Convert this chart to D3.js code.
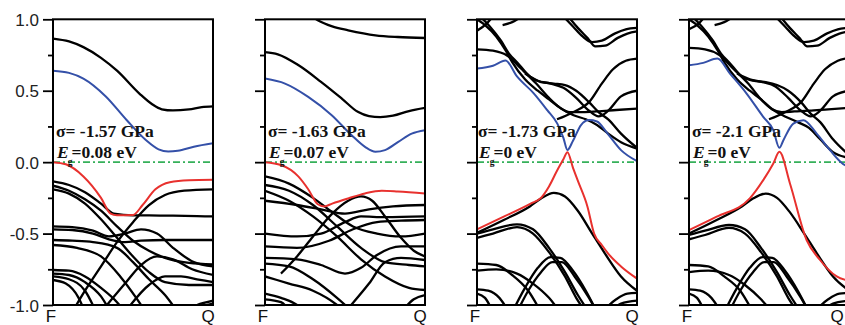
<!DOCTYPE html>
<html>
<head>
<meta charset="utf-8">
<script src="https://cdn.jsdelivr.net/npm/d3@7"></script>
<style>
  html, body { margin: 0; padding: 0; background: #fff; }
  svg { display: block; }
</style>
</head>
<body>
<svg id="chart" width="845" height="325"></svg>
<script>
// Band structures along F–Q under four stress values (energies in eV).
const stressLabels = ["σ= -1.57 GPa", "σ= -1.63 GPa", "σ= -1.73 GPa", "σ= -2.1 GPa"];
const gapLabels = ["=0.08 eV", "=0.07 eV", "=0 eV", "=0 eV"];
const majorTicks = [-1.0, -0.5, 0.0, 0.5, 1.0];
const minorTicks = [-0.75, -0.25, 0.25, 0.75];
const kLabels = ["F", "Q"];

// ---- panel 1: σ = -1.57 GPa
const p1Blue = [[0,0.64],[0.1,0.625],[0.19,0.585],[0.33,0.46],[0.46,0.295],[0.58,0.155],[0.66,0.09],[0.72,0.075],[0.78,0.08],[0.88,0.108],[1,0.132]];
const p1Red = [[0,0],[0.08,-0.015],[0.19,-0.1],[0.3,-0.25],[0.36,-0.36],[0.4,-0.372],[0.5,-0.37],[0.56,-0.3],[0.64,-0.19],[0.73,-0.14],[0.85,-0.127],[1,-0.124]];
const p1Black = [
  [[0,0.865],[0.1,0.845],[0.19,0.805],[0.3,0.73],[0.4,0.64],[0.54,0.48],[0.62,0.405],[0.68,0.37],[0.75,0.362],[0.85,0.37],[0.93,0.385],[1,0.39]],
  [[0,-0.135],[0.1,-0.16],[0.2,-0.21],[0.3,-0.29],[0.38,-0.36],[0.5,-0.372],[0.6,-0.372],[0.75,-0.375],[0.9,-0.378],[1,-0.38]],
  [[0,-0.165],[0.1,-0.2],[0.2,-0.26],[0.3,-0.34],[0.4,-0.45],[0.5,-0.55],[0.6,-0.62],[0.7,-0.67],[0.85,-0.705],[1,-0.715]],
  [[0,-0.19],[0.1,-0.22],[0.2,-0.29],[0.3,-0.4],[0.4,-0.53],[0.5,-0.66],[0.6,-0.77],[0.7,-0.84],[0.85,-0.86],[1,-0.86]],
  [[0.12,-1.05],[0.2,-0.9],[0.3,-0.73],[0.4,-0.56],[0.5,-0.42],[0.6,-0.3],[0.7,-0.23],[0.82,-0.2],[1,-0.19]],
  [[0,-0.45],[0.12,-0.455],[0.25,-0.48],[0.35,-0.52],[0.45,-0.5],[0.55,-0.47],[0.65,-0.5],[0.75,-0.6],[0.88,-0.7],[1,-0.73]],
  [[0,-0.47],[0.12,-0.475],[0.25,-0.5],[0.35,-0.54],[0.45,-0.56],[0.55,-0.55],[0.7,-0.545],[0.85,-0.545],[1,-0.545]],
  [[0,-0.545],[0.12,-0.55],[0.25,-0.56],[0.4,-0.6],[0.5,-0.7],[0.6,-0.82],[0.7,-0.93],[0.78,-1.05]],
  [[0,-0.58],[0.15,-0.6],[0.3,-0.66],[0.42,-0.8],[0.52,-0.95],[0.58,-1.05]],
  [[0,-0.755],[0.1,-0.76],[0.2,-0.8],[0.3,-0.88],[0.4,-0.98],[0.45,-1.05]],
  [[0,-0.78],[0.1,-0.79],[0.2,-0.84],[0.3,-0.94],[0.36,-1.05]],
  [[0,-0.8],[0.1,-0.82],[0.2,-0.9],[0.27,-1.05]],
  [[0,-0.825],[0.08,-0.85],[0.16,-0.95],[0.2,-1.05]],
  [[0.3,-1.05],[0.45,-0.85],[0.55,-0.72],[0.65,-0.66],[0.75,-0.68],[0.87,-0.75],[1,-0.79]],
  [[0.45,-1.05],[0.6,-0.86],[0.7,-0.8],[0.8,-0.8],[0.9,-0.82],[1,-0.84]],
  [[0.8,-1.05],[0.9,-1.0],[1,-0.97]],
  [[0.85,-1.05],[0.93,-1.01],[1,-0.99]]
];

// ---- panel 2: σ = -1.63 GPa
const p2Blue = [[0,0.585],[0.125,0.55],[0.27,0.457],[0.417,0.329],[0.54,0.19],[0.625,0.107],[0.69,0.072],[0.75,0.084],[0.833,0.142],[0.917,0.2],[1,0.224]];
const p2Red = [[0,0],[0.1,-0.02],[0.208,-0.1],[0.27,-0.19],[0.33,-0.295],[0.37,-0.31],[0.42,-0.29],[0.52,-0.254],[0.625,-0.219],[0.73,-0.2],[0.83,-0.205],[1,-0.219]];
const p2Black = [
  [[0.28,1.03],[0.33,0.993],[0.42,0.95],[0.52,0.923],[0.69,0.888],[0.83,0.876],[1,0.869]],
  [[0,0.77],[0.08,0.755],[0.21,0.678],[0.35,0.562],[0.48,0.445],[0.58,0.352],[0.65,0.322],[0.72,0.315],[0.8,0.325],[0.9,0.358],[1,0.38]],
  [[0,-0.1],[0.15,-0.15],[0.3,-0.25],[0.42,-0.35],[0.55,-0.45],[0.7,-0.5],[0.85,-0.52],[1,-0.5]],
  [[0,-0.16],[0.15,-0.2],[0.3,-0.3],[0.45,-0.45],[0.6,-0.6],[0.75,-0.7],[0.9,-0.72],[1,-0.73]],
  [[0,-0.2],[0.15,-0.27],[0.3,-0.38],[0.45,-0.52],[0.6,-0.68],[0.75,-0.8],[0.9,-0.88],[1,-0.895]],
  [[0.1,-0.78],[0.2,-0.66],[0.3,-0.52],[0.42,-0.36],[0.52,-0.27],[0.6,-0.24],[0.67,-0.27],[0.75,-0.38],[0.85,-0.53],[0.93,-0.62],[1,-0.66]],
  [[0,-0.27],[0.2,-0.3],[0.35,-0.33],[0.5,-0.36],[0.65,-0.33],[0.8,-0.31],[1,-0.3]],
  [[0,-0.5],[0.2,-0.52],[0.35,-0.5],[0.5,-0.42],[0.6,-0.38],[0.75,-0.385],[1,-0.38]],
  [[0,-0.59],[0.2,-0.6],[0.4,-0.55],[0.55,-0.47],[0.7,-0.42],[0.85,-0.41],[1,-0.405]],
  [[0,-0.67],[0.2,-0.68],[0.35,-0.72],[0.5,-0.78],[0.6,-0.74],[0.7,-0.65],[0.85,-0.59],[1,-0.59]],
  [[0,-0.71],[0.15,-0.73],[0.3,-0.82],[0.45,-0.95],[0.55,-1.05]],
  [[0,-0.8],[0.15,-0.85],[0.3,-0.9],[0.45,-1.0],[0.5,-1.05]],
  [[0,-0.92],[0.1,-0.95],[0.2,-1.0],[0.25,-1.05]],
  [[0,-0.96],[0.1,-0.98],[0.16,-1.05]],
  [[0.5,-1.05],[0.65,-0.85],[0.75,-0.7],[0.85,-0.67],[1,-0.685]],
  [[0.85,-1.05],[0.93,-0.96],[1,-0.93]]
];

// ---- panel 3: σ = -1.73 GPa
const p3Blue = [[0,0.655],[0.1,0.675],[0.178,0.712],[0.25,0.6],[0.356,0.48],[0.439,0.364],[0.502,0.27],[0.54,0.17],[0.565,0.085],[0.6,0.15],[0.65,0.26],[0.7,0.295],[0.75,0.285],[0.816,0.2],[0.9,0.084],[1,0.007]];
const p3Red = [[0,-0.47],[0.167,-0.382],[0.335,-0.29],[0.4,-0.25],[0.45,-0.17],[0.5,-0.06],[0.54,0.02],[0.565,0.07],[0.6,-0.04],[0.63,-0.13],[0.69,-0.31],[0.732,-0.5],[0.78,-0.58],[0.82,-0.64],[0.9,-0.73],[1,-0.815]];
const p3Black = [
  [[0,0.79],[0.1,0.78],[0.19,0.745],[0.28,0.65],[0.37,0.55],[0.45,0.45],[0.52,0.38],[0.58,0.35],[0.66,0.35],[0.75,0.355],[0.87,0.365],[1,0.375]],
  [[0,1.0],[0.05,0.96],[0.12,0.88],[0.18,0.78],[0.22,0.7],[0.3,0.58],[0.38,0.5],[0.45,0.44],[0.52,0.38],[0.6,0.33],[0.68,0.3],[0.75,0.26],[0.82,0.2],[0.9,0.14],[1,0.095]],
  [[0.02,1.02],[0.08,0.95],[0.15,0.85],[0.2,0.76],[0.25,0.7],[0.33,0.6],[0.4,0.56],[0.48,0.55],[0.55,0.54],[0.62,0.5],[0.7,0.42],[0.76,0.35],[0.82,0.3],[0.9,0.2],[1,0.1]],
  [[0.3,0.62],[0.38,0.57],[0.46,0.55],[0.54,0.52],[0.62,0.45],[0.7,0.36],[0.76,0.32],[0.82,0.36],[0.9,0.46],[1,0.5]],
  [[0.5,0.3],[0.6,0.35],[0.7,0.42],[0.78,0.55],[0.85,0.65],[0.93,0.71],[1,0.725]],
  [[0.54,1.02],[0.6,0.95],[0.66,0.88],[0.72,0.84],[0.78,0.85],[0.86,0.9],[0.93,0.93],[1,0.94]],
  [[0.57,1.02],[0.63,0.94],[0.69,0.87],[0.74,0.81],[0.8,0.815],[0.88,0.87],[0.94,0.9],[1,0.915]],
  [[0,0.92],[0.06,0.97],[0.1,1.02]],
  [[0.16,0.96],[0.22,0.98],[0.28,1.02]],
  [[0,-0.495],[0.167,-0.405],[0.33,-0.31],[0.4,-0.255],[0.48,-0.215],[0.55,-0.24],[0.63,-0.34],[0.72,-0.5],[0.8,-0.64],[0.9,-0.8],[1,-0.9]],
  [[0,-0.5],[0.1,-0.47],[0.25,-0.435],[0.35,-0.47],[0.45,-0.6],[0.55,-0.77],[0.63,-0.93],[0.7,-1.05]],
  [[0,-0.53],[0.1,-0.5],[0.25,-0.455],[0.35,-0.5],[0.45,-0.63],[0.55,-0.8],[0.62,-0.95],[0.68,-1.05]],
  [[0.22,-1.05],[0.3,-0.88],[0.38,-0.74],[0.46,-0.665],[0.52,-0.67],[0.6,-0.76],[0.68,-0.9],[0.75,-1.05]],
  [[0.25,-1.05],[0.32,-0.9],[0.4,-0.77],[0.47,-0.7],[0.53,-0.7],[0.61,-0.8],[0.7,-0.95],[0.75,-1.05]],
  [[0,-0.71],[0.12,-0.72],[0.22,-0.79],[0.32,-0.9],[0.4,-1.05]],
  [[0,-0.76],[0.12,-0.75],[0.25,-0.78],[0.35,-0.85],[0.45,-0.95],[0.52,-1.05]],
  [[0,-0.89],[0.07,-0.9],[0.14,-0.95],[0.2,-1.05]],
  [[0,-0.92],[0.05,-0.95],[0.1,-1.05]],
  [[0.78,-1.05],[0.87,-0.96],[0.94,-0.92],[1,-0.915]],
  [[0.83,-1.05],[0.9,-0.99],[1,-0.97]]
];

// ---- panel 4: σ = -2.1 GPa
const p4Blue = [[0,0.678],[0.089,0.695],[0.177,0.725],[0.256,0.62],[0.36,0.48],[0.464,0.317],[0.527,0.224],[0.565,0.1],[0.59,0.154],[0.652,0.27],[0.715,0.294],[0.798,0.2],[0.881,0.084],[0.975,-0.021],[1,-0.03]];
const p4Red = [[0,-0.476],[0.173,-0.382],[0.38,-0.254],[0.464,-0.126],[0.527,-0.009],[0.565,0.072],[0.631,-0.149],[0.735,-0.545],[0.819,-0.685],[0.923,-0.8],[1,-0.83]];
const p4Black = [
  [[0,0.8],[0.1,0.79],[0.19,0.75],[0.28,0.65],[0.37,0.55],[0.45,0.44],[0.52,0.37],[0.58,0.35],[0.66,0.355],[0.75,0.36],[0.87,0.37],[1,0.38]],
  [[0,1.0],[0.05,0.96],[0.12,0.88],[0.18,0.78],[0.22,0.7],[0.3,0.58],[0.38,0.5],[0.45,0.44],[0.52,0.37],[0.6,0.32],[0.68,0.28],[0.75,0.24],[0.82,0.16],[0.9,0.07],[1,0.03]],
  [[0.02,1.02],[0.08,0.95],[0.15,0.85],[0.2,0.76],[0.25,0.7],[0.33,0.6],[0.4,0.57],[0.48,0.56],[0.55,0.54],[0.62,0.5],[0.7,0.42],[0.76,0.34],[0.82,0.28],[0.9,0.16],[1,0.05]],
  [[0.3,0.62],[0.38,0.58],[0.46,0.56],[0.54,0.53],[0.62,0.45],[0.7,0.36],[0.76,0.32],[0.82,0.36],[0.9,0.46],[1,0.5]],
  [[0.5,0.3],[0.6,0.35],[0.7,0.42],[0.78,0.55],[0.85,0.65],[0.93,0.71],[1,0.73]],
  [[0.54,1.02],[0.6,0.95],[0.66,0.88],[0.72,0.84],[0.78,0.85],[0.86,0.9],[0.93,0.93],[1,0.94]],
  [[0.57,1.02],[0.63,0.94],[0.69,0.87],[0.74,0.81],[0.8,0.815],[0.88,0.87],[0.94,0.9],[1,0.915]],
  [[0,0.93],[0.06,0.97],[0.1,1.02]],
  [[0.16,0.96],[0.22,0.98],[0.28,1.02]],
  [[0,-0.5],[0.173,-0.405],[0.33,-0.31],[0.4,-0.255],[0.48,-0.22],[0.55,-0.25],[0.63,-0.35],[0.72,-0.5],[0.8,-0.64],[0.9,-0.8],[1,-0.9]],
  [[0,-0.51],[0.1,-0.48],[0.25,-0.44],[0.35,-0.47],[0.45,-0.6],[0.55,-0.77],[0.63,-0.93],[0.7,-1.05]],
  [[0,-0.54],[0.1,-0.51],[0.25,-0.46],[0.35,-0.5],[0.45,-0.63],[0.55,-0.8],[0.62,-0.95],[0.68,-1.05]],
  [[0.22,-1.05],[0.3,-0.88],[0.38,-0.74],[0.46,-0.665],[0.52,-0.67],[0.6,-0.76],[0.68,-0.9],[0.75,-1.05]],
  [[0.25,-1.05],[0.32,-0.9],[0.4,-0.77],[0.47,-0.7],[0.53,-0.7],[0.61,-0.8],[0.7,-0.95],[0.75,-1.05]],
  [[0,-0.72],[0.12,-0.73],[0.22,-0.8],[0.32,-0.9],[0.4,-1.05]],
  [[0,-0.77],[0.12,-0.76],[0.25,-0.79],[0.35,-0.86],[0.45,-0.96],[0.52,-1.05]],
  [[0,-0.89],[0.07,-0.9],[0.14,-0.95],[0.2,-1.05]],
  [[0,-0.92],[0.05,-0.95],[0.1,-1.05]],
  [[0.78,-1.05],[0.87,-0.96],[0.94,-0.92],[1,-0.915]],
  [[0.83,-1.05],[0.9,-0.99],[1,-0.97]]
];

const panels = [
  { left: 53,  black: p1Black, blue: p1Blue, red: p1Red },
  { left: 265, black: p2Black, blue: p2Blue, red: p2Red },
  { left: 477, black: p3Black, blue: p3Blue, red: p3Red },
  { left: 689, black: p4Black, blue: p4Blue, red: p4Red }
];

const panelW = 160;
const plotTop = 19.3, plotBottom = 305;
const svgW = 845;
const svg = d3.select("#chart");
svg.append("rect").attr("width", svgW).attr("height", 325).attr("fill", "#fff");

const y = d3.scaleLinear().domain([-1, 1]).range([plotBottom, plotTop]);

panels.forEach((p, i) => {
  const x = d3.scaleLinear().domain([0, 1]).range([p.left, p.left + panelW]);
  const g = svg.append("g");
  const clipId = "clip" + i;
  svg.append("clipPath").attr("id", clipId)
    .append("rect").attr("x", p.left).attr("y", plotTop).attr("width", panelW).attr("height", plotBottom - plotTop);

  const line = d3.line().x(d => x(d[0])).y(d => y(d[1])).curve(d3.curveMonotoneX);
  const bands = g.append("g").attr("clip-path", `url(#${clipId})`);

  bands.selectAll("path.black").data(p.black).join("path")
    .attr("class", "black").attr("d", line)
    .attr("fill", "none").attr("stroke", "#000").attr("stroke-width", 2.3)
    .attr("stroke-linejoin", "round");

  // Fermi level
  bands.append("line")
    .attr("x1", x(0)).attr("x2", x(1)).attr("y1", y(0)).attr("y2", y(0))
    .attr("stroke", "#35b05a").attr("stroke-width", 1.6)
    .attr("stroke-dasharray", "7,3,2,3");

  bands.append("path").datum(p.blue).attr("d", line)
    .attr("fill", "none").attr("stroke", "#3450a8").attr("stroke-width", 2);
  bands.append("path").datum(p.red).attr("d", line)
    .attr("fill", "none").attr("stroke", "#e8312e").attr("stroke-width", 2);

  // axes (ticks pointing outward)
  const major = d3.axisLeft(y).tickValues(majorTicks).tickSize(10)
    .tickFormat(i === 0 ? (d => d.toFixed(1)) : () => "");
  const minor = d3.axisLeft(y).tickValues(minorTicks).tickSize(5).tickFormat(() => "");
  const ax = g.append("g").attr("transform", `translate(${p.left},0)`).call(major);
  const axm = g.append("g").attr("transform", `translate(${p.left},0)`).call(minor);
  [ax, axm].forEach(a => {
    a.select(".domain").remove();
    a.selectAll(".tick line").attr("stroke", "#000").attr("stroke-width", 1.8);
  });
  ax.selectAll(".tick text")
    .attr("x", -14).attr("dy", "0.36em")
    .attr("font-family", "Liberation Sans, Arial, sans-serif")
    .attr("font-size", 17).attr("fill", "#222");

  // frame
  g.append("rect").attr("x", p.left).attr("y", plotTop).attr("width", panelW).attr("height", plotBottom - plotTop)
    .attr("fill", "none").attr("stroke", "#000").attr("stroke-width", 2);

  // k-point labels (kept inside the drawing area at the right edge)
  g.selectAll("text.k").data(kLabels).join("text").attr("class", "k")
    .attr("x", (d, j) => Math.min(x(j) - (j === 0 ? 2 : 5), svgW - 8)).attr("y", 322)
    .attr("text-anchor", "middle")
    .attr("font-family", "Liberation Sans, Arial, sans-serif").attr("font-size", 17).attr("fill", "#111")
    .text(d => d);

  // annotations
  const tx = p.left + (i === 2 ? 1 : 3);
  const font = "Liberation Serif, Times New Roman, serif";
  g.append("text").attr("x", tx).attr("y", 137)
    .attr("font-family", font).attr("font-weight", "bold").attr("font-size", 17.5).attr("fill", "#111")
    .text(stressLabels[i]);
  const eg = g.append("text").attr("x", tx + 1).attr("y", 158)
    .attr("font-family", font).attr("font-weight", "bold").attr("font-size", 17.5).attr("fill", "#111");
  eg.append("tspan").attr("font-style", "italic").text("E");
  eg.append("tspan").attr("font-size", 9.5).attr("dy", 7).attr("dx", -1).text("g");
  eg.append("tspan").attr("dy", -7).attr("dx", -1).text(gapLabels[i]);
});
</script>
</body>
</html>
